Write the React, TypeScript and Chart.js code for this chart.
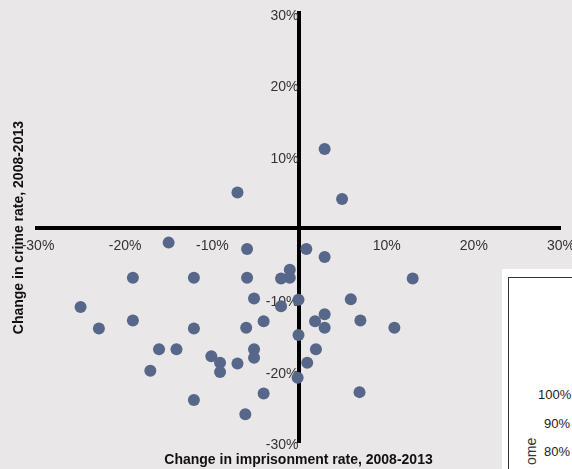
import React, { useEffect, useRef } from 'react';
import { Chart, registerables } from 'chart.js';

Chart.register(...registerables);

// Change in imprisonment rate (x, %) and change in crime rate (y, %), 2008-2013
const imprisonmentChange = [
  -7.0, 3.0, 5.0, -14.9, -5.9, 0.9, 3.0, -19.0, -12.0, -5.9,
  -1.0, -2.0, -1.0, 13.1, -5.1, -2.0, 0.0, 6.0, -25.0, -22.9,
  -19.0, -12.0, -6.0, -4.0, 3.0, 1.9, 3.0, 7.1, 11.0, 0.0,
  -16.0, -14.0, -10.0, -9.0, -9.0, -7.0, -5.1, -5.1, 2.0, 1.0,
  -0.1, -17.0, -12.0, -4.0, -6.1, 7.0,
];
const crimeChange = [
  4.9, 11.0, 4.0, -2.1, -3.0, -3.0, -4.1, -7.0, -7.0, -7.0,
  -5.9, -7.1, -7.0, -7.1, -9.9, -11.0, -10.1, -10.0, -11.1, -14.1,
  -13.0, -14.1, -14.0, -13.1, -12.1, -13.1, -14.0, -13.0, -14.0, -15.0,
  -17.0, -17.0, -18.0, -18.9, -20.2, -19.0, -17.0, -18.2, -17.0, -18.9,
  -21.0, -20.0, -24.1, -23.2, -26.1, -23.0,
];
const xTickValues = [-30, -20, -10, 0, 10, 20, 30];
const yTickValues = [-30, -20, -10, 0, 10, 20, 30];
const xTitle = 'Change in imprisonment rate, 2008-2013';
const yTitle = 'Change in crime rate, 2008-2013';

const FONT = "'Liberation Sans', Arial, sans-serif";

const zeroPadding = (s: any) => {
  s.paddingLeft = 0;
  s.paddingRight = 0;
  s.paddingTop = 0;
  s.paddingBottom = 0;
};

export default function App() {
  const ref = useRef<HTMLCanvasElement>(null);

  useEffect(() => {
    document.body.style.margin = '0';
    const canvas = ref.current;
    if (!canvas) return;
    const tickFmt = (v: any) => (Number(v) === 0 ? '' : `${v}%`);
    const chart = new Chart(canvas, {
      type: 'scatter',
      data: {
        datasets: [
          {
            data: imprisonmentChange.map((x, i) => ({ x, y: crimeChange[i] })),
            xAxisID: 'x',
            yAxisID: 'y',
            pointRadius: 6,
            pointHoverRadius: 6,
            backgroundColor: '#56678a',
            borderWidth: 0,
          },
        ],
      },
      options: {
        animation: false,
        responsive: false,
        events: [],
        layout: { padding: { top: 13, right: 12, bottom: 0, left: 0 } },
        plugins: { legend: { display: false }, tooltip: { enabled: false } },
        scales: {
          x: {
            type: 'linear',
            position: { y: 0 } as any,
            min: -30,
            max: 30,
            afterBuildTicks: (s: any) => {
              s.ticks = xTickValues.map((value) => ({ value }));
            },
            afterFit: zeroPadding,
            ticks: {
              padding: 10,
              labelOffset: 1,
              font: { family: FONT, size: 14 },
              color: '#333',
              callback: tickFmt,
              maxRotation: 0,
              autoSkip: false,
            },
            grid: { display: false, drawTicks: false },
            border: { color: '#000', width: 4 },
          },
          y: {
            type: 'linear',
            position: { x: 0 } as any,
            min: -30,
            max: 30,
            afterBuildTicks: (s: any) => {
              s.ticks = yTickValues.map((value) => ({ value }));
            },
            afterFit: zeroPadding,
            ticks: {
              padding: 0,
              labelOffset: 3,
              font: { family: FONT, size: 14 },
              color: '#333',
              callback: tickFmt,
              autoSkip: false,
            },
            grid: { display: false, drawTicks: false },
            border: { color: '#000', width: 4 },
          },
          xTitleAxis: {
            type: 'linear',
            axis: 'x',
            position: 'bottom',
            min: -30,
            max: 30,
            afterFit: zeroPadding,
            ticks: { display: false },
            grid: { display: false, drawTicks: false },
            border: { display: false },
            title: {
              display: true,
              text: xTitle,
              color: '#111',
              font: { family: FONT, size: 14, weight: 'bold' },
              padding: { top: 10, bottom: 0 },
            },
          },
          yTitleAxis: {
            type: 'linear',
            axis: 'y',
            position: 'left',
            min: -30,
            max: 30,
            afterFit: zeroPadding,
            ticks: { display: false },
            grid: { display: false, drawTicks: false },
            border: { display: false },
            title: {
              display: true,
              text: yTitle,
              color: '#111',
              font: { family: FONT, size: 14, weight: 'bold' },
              padding: { top: 10.6, bottom: 9.6 },
            },
          },
        } as any,
      },
    });
    return () => chart.destroy();
  }, []);

  const smallText: React.CSSProperties = {
    position: 'absolute',
    fontFamily: FONT,
    fontSize: 13,
    color: '#222',
    lineHeight: '14px',
    whiteSpace: 'nowrap',
  };

  return (
    <div
      style={{
        position: 'relative',
        width: 572,
        height: 469,
        overflow: 'hidden',
        background: '#e9e7e8',
      }}
    >
      <canvas ref={ref} width={572} height={469} style={{ display: 'block' }} />
      <div
        style={{
          position: 'absolute',
          left: 502,
          top: 269,
          width: 80,
          height: 210,
          background: '#fff',
        }}
      >
        <div
          style={{
            position: 'absolute',
            left: 6,
            top: 8,
            width: 100,
            height: 300,
            borderTop: '1px solid #333',
            borderLeft: '1px solid #333',
          }}
        />
        <span style={{ ...smallText, left: 36, top: 119 }}>100%</span>
        <span style={{ ...smallText, left: 42, top: 148 }}>90%</span>
        <span style={{ ...smallText, left: 42, top: 176 }}>80%</span>
        <span
          style={{
            ...smallText,
            fontSize: 14,
            color: '#333',
            left: 22,
            top: 196,
            transform: 'rotate(-90deg)',
            transformOrigin: 'left top',
          }}
        >
          ome
        </span>
      </div>
    </div>
  );
}
